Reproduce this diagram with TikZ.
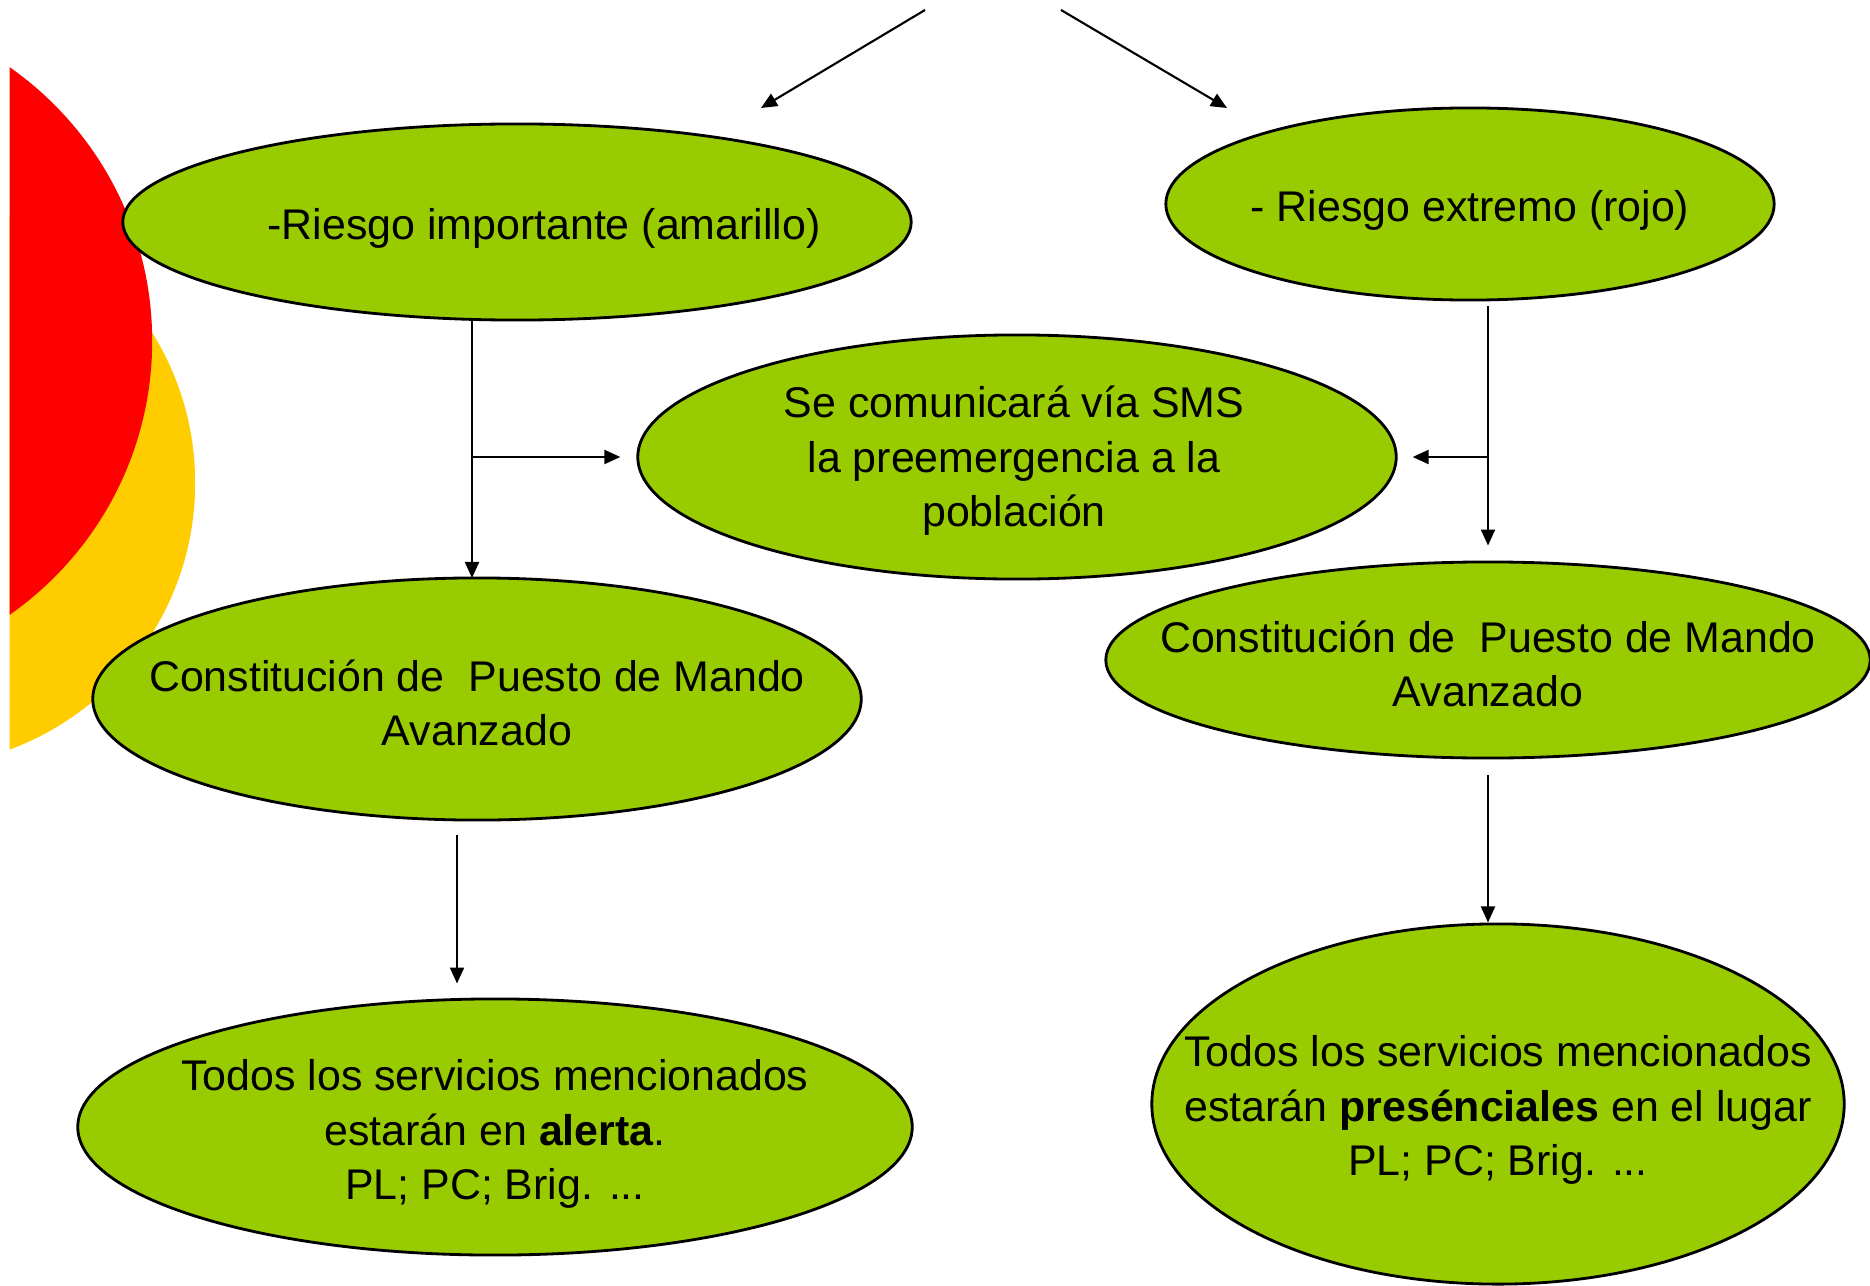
\documentclass[tikz,border=0pt]{standalone}
\usepackage{fontspec}
\setmainfont{Liberation Sans}
\usetikzlibrary{shapes.geometric, arrows.meta}
\definecolor{verde}{HTML}{99CC00}
\definecolor{rojo}{HTML}{FF0000}
\definecolor{amarillo}{HTML}{FFCC00}

\begin{document}
\begin{tikzpicture}[x=0.01cm, y=-0.01cm,
  bola/.style={ellipse, draw, line width=0.8pt, fill=verde, inner sep=0pt},
  texto/.style={align=center, font=\fontsize{12.2}{15.5}\selectfont},
  flecha/.style={-{Triangle[length=0.16cm,width=0.14cm]}, line width=0.6pt}]
\useasboundingbox (0,0) rectangle (1870,1285);
\begin{scope}
\clip (9.5,0) rectangle (400,1285);
\fill[amarillo] (-89,483) circle (2.84cm);
\fill[rojo] (-182,341) circle (3.34cm);
\end{scope}
\node[bola, minimum width=7.88cm, minimum height=1.96cm] (riesgoA) at (517,222) {};
\node[texto] (riesgoAt) at (544,228) {-Riesgo importante (amarillo)};
\node[bola, minimum width=6.08cm, minimum height=1.92cm] (riesgoR) at (1470,204) {};
\node[texto] (riesgoRt) at (1470,210) {- Riesgo extremo (rojo)};
\node[bola, minimum width=7.58cm, minimum height=2.44cm] (sms) at (1017,457) {};
\node[texto] (smst) at (1014,461) {Se comunicará vía SMS\\la preemergencia a la\\población};
\node[bola, minimum width=7.68cm, minimum height=2.42cm] (pmaA) at (477,699) {};
\node[texto] (pmaAt) at (477,703) {Constitución de~ Puesto de Mando\\Avanzado};
\node[bola, minimum width=7.64cm, minimum height=1.96cm] (pmaR) at (1488,660) {};
\node[texto] (pmaRt) at (1488,664) {Constitución de~ Puesto de Mando\\Avanzado};
\node[bola, minimum width=8.34cm, minimum height=2.56cm] (todosA) at (495,1127) {};
\node[texto] (todosAt) at (495,1134) {Todos los servicios mencionados\\estarán en \textbf{alerta}.\\PL; PC; Brig. ...};
\node[bola, minimum width=6.92cm, minimum height=3.6cm] (todosR) at (1498,1104) {};
\node[texto] (todosRt) at (1498,1110) {Todos los servicios mencionados\\estarán \textbf{presénciales} en el lugar\\PL; PC; Brig. ...};
\coordinate (ini1) at (925,10);
\coordinate (fin1) at (761,108);
\coordinate (ini2) at (1061,10);
\coordinate (fin2) at (1227,108);
\coordinate (ini3) at (457,835);
\coordinate (eje) at (472,578);
\draw[flecha] (ini1) -- (fin1);
\draw[flecha] (ini2) -- (fin2);
\draw[flecha] (eje |- riesgoA.south) -- (eje);
\draw[flecha, shorten >=0.16cm] (eje |- sms.west) -- (sms.west);
\draw[flecha, shorten <=0.05cm, shorten >=0.15cm] (pmaR.north |- riesgoR.south) -- (pmaR.north);
\draw[flecha, shorten >=0.15cm] (pmaR.north |- sms.east) -- (sms.east);
\draw[flecha, shorten >=0.14cm] (ini3) -- (ini3 |- todosA.north);
\draw[flecha, shorten <=0.16cm] (pmaR.south) -- (pmaR.south |- todosR.north);
\end{tikzpicture}
\end{document}
